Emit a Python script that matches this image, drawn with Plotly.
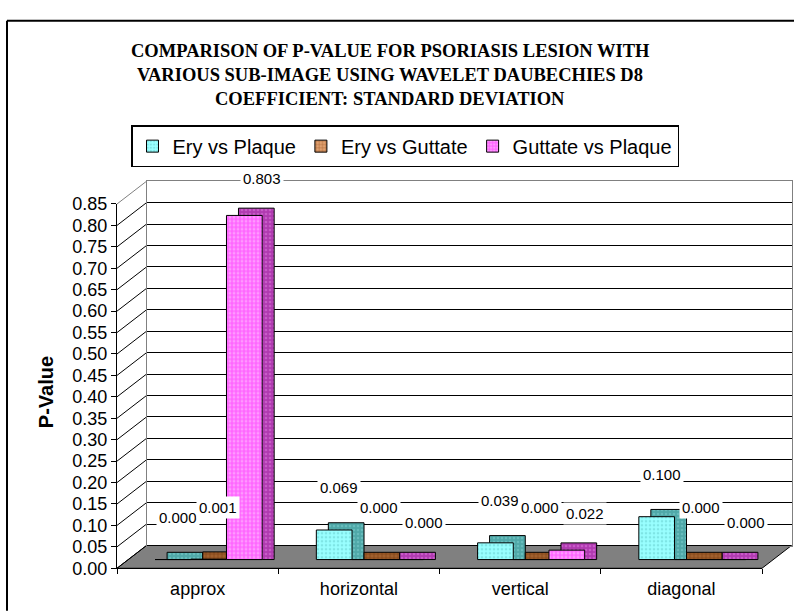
import plotly.graph_objects as go

# ---------------- data ----------------
categories = ["approx", "horizontal", "vertical", "diagonal"]
series_names = ["Ery vs Plaque", "Ery vs Guttate", "Guttate vs Plaque"]
ery_vs_plaque = [0.000, 0.069, 0.039, 0.100]
ery_vs_guttate = [0.001, 0.000, 0.000, 0.000]
guttate_vs_plaque = [0.803, 0.000, 0.022, 0.000]
title_lines = [
    "COMPARISON OF P-VALUE FOR PSORIASIS LESION WITH",
    "VARIOUS SUB-IMAGE USING WAVELET DAUBECHIES D8",
    "COEFFICIENT: STANDARD DEVIATION",
]
y_axis_title = "P-Value"

series_values = [ery_vs_plaque, ery_vs_guttate, guttate_vs_plaque]

# ---------------- geometry (pixels) ----------------
W, H = 794, 616
Y_MAX = 0.85
Y_STEP = 0.05
FRONT_L, FRONT_R = 117, 762
FRONT_Y0, FRONT_YTOP = 577, 200.5
K = (FRONT_Y0 - FRONT_YTOP) / Y_MAX          # px per unit
WALL_DX, WALL_DY = 29.5, -23.5                # back wall offset
BAR_DX, BAR_DY = 11, -9                       # bar front-plane offset
BOX_DX, BOX_DY = 12, -7.5                     # bar depth
BARGAP = 0.336


def px(x):
    return x / W


def py(y):
    return 1 - y / H


def xdom(l, r):
    return [px(l), px(r)]


def ydom(y0, lo, hi):
    return [py(y0 - lo * K), py(y0 - hi * K)]


FONT = "Liberation Sans, Arial, sans-serif"
SERIF = "Liberation Serif, Times New Roman, serif"

front_colors = [
    dict(bg="#99FFFF", fg="#66CCCC", shape=".", solidity=0.35, size=4),
    dict(bg="#E0A070", fg="#7A3300", shape="+", solidity=0.3, size=4),
    dict(bg="#FF66FF", fg="#FFCCFF", shape=".", solidity=0.4, size=4),
]
side_colors = [
    dict(bg="#4FA8A8", fg="#7FCFCF", shape=".", solidity=0.3, size=4),
    dict(bg="#A0602E", fg="#5A2000", shape="+", solidity=0.3, size=4),
    dict(bg="#B03AB0", fg="#E080E0", shape=".", solidity=0.35, size=4),
]

fig = go.Figure()

# invisible traces that carry the back-wall and front category axes
for ax, ay in (("x", "y"), ("x2", "y2")):
    fig.add_trace(go.Scatter(x=categories, y=[0] * len(categories), xaxis=ax, yaxis=ay,
                             mode="markers", marker=dict(opacity=0), showlegend=False,
                             hoverinfo="skip"))

box_base = BOX_DY / K  # negative: base of depth box at the front-plane floor

# depth (top / side faces) bars
for i, (name, vals) in enumerate(zip(series_names, series_values)):
    c = side_colors[i]
    fig.add_trace(go.Bar(
        x=categories, y=[v - box_base for v in vals], base=box_base,
        xaxis="x3", yaxis="y3", showlegend=False, hoverinfo="skip",
        marker=dict(color=c["bg"], line=dict(color="black", width=1),
                    pattern=dict(shape=c["shape"], fgcolor=c["fg"], bgcolor=c["bg"],
                                 size=c["size"], solidity=c["solidity"])),
    ))

# front faces
for i, (name, vals) in enumerate(zip(series_names, series_values)):
    c = front_colors[i]
    fig.add_trace(go.Bar(
        x=categories, y=vals, name=name, xaxis="x4", yaxis="y4",
        marker=dict(color=c["bg"], line=dict(color="black", width=1),
                    pattern=dict(shape=c["shape"], fgcolor=c["fg"], bgcolor=c["bg"],
                                 size=c["size"], solidity=c["solidity"])),
    ))

cat_w = (FRONT_R - FRONT_L) / len(categories)
bar_w = cat_w * (1 - BARGAP) / len(series_names)
label_dx = [5, 9, 18]
label_dy = [42, 52, 37]
annotations = []
for i, vals in enumerate(series_values):
    for cat, v in zip(categories, vals):
        annotations.append(dict(
            x=cat, y=v, xref="x4", yref="y4", text=f"{v:.3f}", showarrow=False,
            xanchor="center", yanchor="middle",
            xshift=(i - 1) * bar_w + label_dx[i], yshift=label_dy[i],
            bgcolor="white", borderpad=2, font=dict(family=FONT, size=15, color="black"),
        ))

for j, line in enumerate(title_lines):
    annotations.append(dict(
        x=px(390), y=py(42 + 25 * j), xref="paper", yref="paper", text=f"<b>{line}</b>",
        xanchor="center", yanchor="middle",
        showarrow=False, font=dict(family=SERIF, size=18.5, color="black"),
    ))

annotations.append(dict(
    x=px(46), y=py(395), xref="paper", yref="paper", text=f"<b>{y_axis_title}</b>",
    xanchor="center", yanchor="middle",
    textangle=-90, showarrow=False, font=dict(family=FONT, size=20, color="black"),
))

# shapes: floor, wall connectors, outer border
shapes = []
fl = [(FRONT_L, FRONT_Y0), (FRONT_R, FRONT_Y0), (FRONT_R + WALL_DX, FRONT_Y0 + WALL_DY),
      (FRONT_L + WALL_DX, FRONT_Y0 + WALL_DY)]
path = "M " + " L ".join(f"{px(a):.5f},{py(b):.5f}" for a, b in fl) + " Z"
shapes.append(dict(type="path", path=path, xref="paper", yref="paper",
                   fillcolor="#808080", line=dict(color="black", width=1), layer="below"))
n_ticks = int(round(Y_MAX / Y_STEP)) + 1
for t in range(n_ticks):
    yv = FRONT_Y0 - t * Y_STEP * K
    shapes.append(dict(type="line", xref="paper", yref="paper",
                       x0=px(FRONT_L), y0=py(yv), x1=px(FRONT_L + WALL_DX), y1=py(yv + WALL_DY),
                       line=dict(color="#808080" if t == n_ticks - 1 else "black", width=1),
                       layer="below"))
shapes.append(dict(type="line", xref="paper", yref="paper", x0=px(7), y0=py(11), x1=px(7), y1=py(H + 5),
                   line=dict(color="black", width=2)))
shapes.append(dict(type="line", xref="paper", yref="paper", x0=px(7), y0=py(11), x1=px(W + 5), y1=py(11),
                   line=dict(color="black", width=2)))

cat_axis = dict(type="category", categoryorder="array", categoryarray=categories,
                range=[-0.5, len(categories) - 0.5])

fig.update_layout(
    width=W, height=H, margin=dict(l=0, r=0, t=0, b=0), autosize=False,
    paper_bgcolor="white", plot_bgcolor="rgba(0,0,0,0)",
    barmode="group", bargap=BARGAP, bargroupgap=0,
    font=dict(family=FONT, size=18, color="black"),
    showlegend=True,
    legend=dict(orientation="h", x=px(405), y=py(119), xanchor="center", yanchor="top",
                bordercolor="black", borderwidth=1.5, bgcolor="white",
                font=dict(family=FONT, size=20, color="black")),
    annotations=annotations, shapes=shapes,
    # back wall
    xaxis=dict(domain=xdom(FRONT_L + WALL_DX, FRONT_R + WALL_DX), anchor="y",
               showticklabels=False, ticks="", showgrid=False, zeroline=False,
               showline=True, mirror=True, linecolor="#808080", linewidth=1, **cat_axis),
    yaxis=dict(domain=ydom(FRONT_Y0 + WALL_DY, 0, Y_MAX), anchor="x", range=[0, Y_MAX],
               dtick=Y_STEP, tick0=0, showticklabels=False, ticks="", showgrid=True,
               gridcolor="black", gridwidth=1, zeroline=False,
               showline=True, mirror=True, linecolor="#808080", linewidth=1),
    # front axes
    xaxis2=dict(domain=xdom(FRONT_L, FRONT_R), anchor="y2",
                showline=True, linecolor="black", linewidth=1, ticks="outside", ticklen=5,
                tickson="boundaries", tickcolor="black", showgrid=False, zeroline=False,
                ticklabelstandoff=4,
                tickfont=dict(family=FONT, size=18), **cat_axis),
    yaxis2=dict(domain=ydom(FRONT_Y0, 0, Y_MAX), anchor="x2", range=[0, Y_MAX],
                dtick=Y_STEP, tick0=0, tickformat=".2f", showline=True, linecolor="black",
                linewidth=1, ticks="outside", ticklen=5, tickcolor="black", showgrid=False,
                zeroline=False, tickfont=dict(family=FONT, size=18)),
    # depth boxes
    xaxis3=dict(domain=xdom(FRONT_L + BAR_DX + BOX_DX, FRONT_R + BAR_DX + BOX_DX), anchor="y3",
                visible=False, **cat_axis),
    yaxis3=dict(domain=ydom(FRONT_Y0 + BAR_DY + BOX_DY, -0.02, Y_MAX), anchor="x3",
                range=[-0.02, Y_MAX], visible=False),
    # front faces
    xaxis4=dict(domain=xdom(FRONT_L + BAR_DX, FRONT_R + BAR_DX), anchor="y4",
                visible=False, **cat_axis),
    yaxis4=dict(domain=ydom(FRONT_Y0 + BAR_DY, -0.02, Y_MAX), anchor="x4",
                range=[-0.02, Y_MAX], visible=False),
)

fig.write_html("out.html", config={"displayModeBar": False},
               post_script="document.body.style.margin='0px';"
                           "document.body.style.overflow='hidden';")
